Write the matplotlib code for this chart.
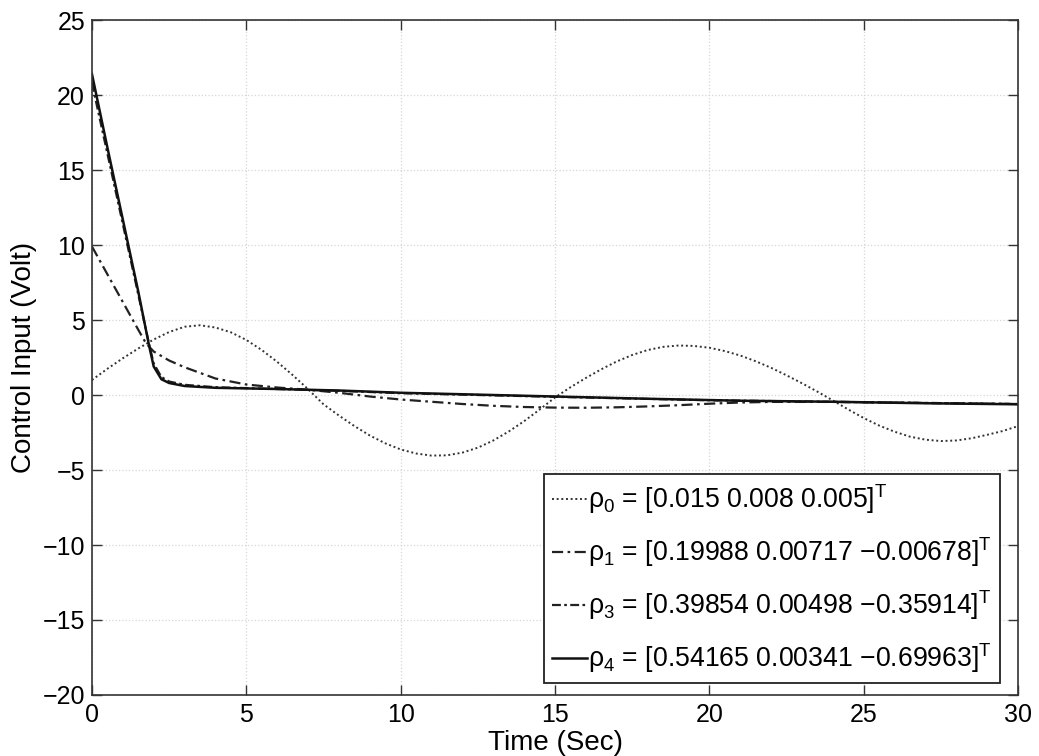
import matplotlib
matplotlib.use("Agg")
import matplotlib.pyplot as plt

plt.rcParams['font.family'] = ['Liberation Sans', 'DejaVu Sans']
plt.rcParams['mathtext.fontset'] = 'custom'
plt.rcParams['mathtext.rm'] = 'Liberation Sans'
plt.rcParams['mathtext.it'] = 'Liberation Sans:italic'
plt.rcParams['mathtext.bf'] = 'Liberation Sans:bold'

# ---- data ----
t_rho0 = [0.0, 0.5, 1.0, 1.5, 2.0, 2.5, 3.0, 3.5, 4.0, 4.5, 5.0, 5.5, 6.0, 6.5,
          7.0, 7.5, 8.0, 8.5, 9.0, 9.5, 10.0, 10.5, 11.0, 11.5, 12.0, 12.5,
          13.0, 13.5, 14.0, 14.5, 15.0, 15.5, 16.0, 16.5, 17.0, 17.5, 18.0,
          18.5, 19.0, 19.5, 20.0, 20.5, 21.0, 21.5, 22.0, 22.5, 23.0, 23.5,
          24.0, 24.5, 25.0, 25.5, 26.0, 26.5, 27.0, 27.5, 28.0, 28.5, 29.0,
          29.5, 30.0]
u_rho0 = [1.0, 1.75, 2.45, 3.1, 3.7, 4.2, 4.55, 4.65, 4.5, 4.18, 3.67, 3.0,
          2.21, 1.33, 0.39, -0.62, -1.37, -2.07, -2.7, -3.22, -3.63, -3.9,
          -4.04, -4.02, -3.84, -3.51, -3.03, -2.43, -1.74, -0.97, -0.16, 0.52,
          1.14, 1.72, 2.24, 2.67, 3.0, 3.21, 3.3, 3.27, 3.15, 2.93, 2.63, 2.25,
          1.81, 1.31, 0.78, 0.22, -0.37, -0.97, -1.54, -2.04, -2.45, -2.78,
          -2.98, -3.07, -3.03, -2.88, -2.65, -2.4, -2.07]

t_rho1 = [0.0, 0.5, 1.0, 1.5, 1.75, 2.0, 2.5, 3.0, 4.0, 5.0, 6.0, 7.0, 8.0,
          9.0, 10.0, 11.0, 12.0, 13.0, 14.0, 15.0, 16.0, 17.0, 18.0, 19.0,
          20.0, 21.0, 22.0, 24.0, 27.0, 30.0]
u_rho1 = [9.9, 8.05, 6.2, 4.35, 3.45, 2.9, 2.3, 1.85, 1.1, 0.7, 0.5, 0.35,
          0.15, -0.1, -0.3, -0.45, -0.6, -0.72, -0.8, -0.84, -0.85, -0.82,
          -0.76, -0.68, -0.58, -0.5, -0.46, -0.46, -0.53, -0.6]

t_rho3 = [0.0, 0.5, 1.0, 1.5, 1.85, 2.0, 2.25, 2.5, 3.0, 4.0, 6.0, 8.0, 10.0,
          15.0, 20.0, 25.0, 30.0]
u_rho3 = [20.8, 16.1, 11.4, 6.7, 3.4, 2.1, 1.2, 0.9, 0.68, 0.52, 0.4, 0.28,
          0.12, -0.12, -0.35, -0.48, -0.6]

t_rho4 = [0.0, 0.5, 1.0, 1.5, 1.85, 2.0, 2.25, 2.5, 3.0, 4.0, 6.0, 8.0, 10.0,
          12.0, 15.0, 18.0, 21.0, 24.0, 27.0, 30.0]
u_rho4 = [21.4, 16.5, 11.7, 6.9, 3.3, 1.9, 1.05, 0.8, 0.6, 0.48, 0.4, 0.3,
          0.15, 0.05, -0.1, -0.25, -0.38, -0.45, -0.55, -0.62]

labels = [r'ρ$_\mathregular{0}$ = [0.015 0.008 0.005]$^\mathregular{T}$',
          r'ρ$_\mathregular{1}$ = [0.19988 0.00717 −0.00678]$^\mathregular{T}$',
          r'ρ$_\mathregular{3}$ = [0.39854 0.00498 −0.35914]$^\mathregular{T}$',
          r'ρ$_\mathregular{4}$ = [0.54165 0.00341 −0.69963]$^\mathregular{T}$']

x_ticks = [0, 5, 10, 15, 20, 25, 30]
y_ticks = [-20, -15, -10, -5, 0, 5, 10, 15, 20, 25]

fig = plt.figure(figsize=(10.39, 7.56), dpi=100)
ax = fig.add_axes([0.0885, 0.0807, 0.8915, 0.8928])

ax.plot(t_rho0, u_rho0, color='#333333', lw=1.4, linestyle=(0, (1, 1.4)), label=labels[0])
ax.plot(t_rho1, u_rho1, color='#222222', lw=1.6, linestyle=(0, (5, 2, 1.2, 2)), label=labels[1])
ax.plot(t_rho3, u_rho3, color='#222222', lw=1.6, linestyle=(0, (4, 1.5, 1.2, 1.5)), label=labels[2])
ax.plot(t_rho4, u_rho4, color='#111111', lw=1.8, linestyle='-', label=labels[3])

ax.set_xlim(0, 30)
ax.set_ylim(-20, 25)
ax.set_xticks(x_ticks)
ax.set_yticks(y_ticks)
ax.set_xticklabels([str(v) for v in x_ticks])
ax.set_yticklabels([str(v).replace('-', '−') for v in y_ticks])
ax.tick_params(direction='in', length=7, width=1.0, top=True, right=True,
               labelsize=18, color='#333333')
ax.tick_params(axis='x', pad=6)
ax.tick_params(axis='y', pad=5)
for s in ax.spines.values():
    s.set_linewidth(1.2)
    s.set_color('#333333')

ax.grid(True, color='#d6d6d6', linestyle=':', linewidth=0.9)

ax.set_xlabel('Time (Sec)', fontsize=20, labelpad=2)
ax.set_ylabel('Control Input (Volt)', fontsize=20, labelpad=4)

leg = ax.legend(loc='lower right', bbox_to_anchor=(0.9806, 0.0178),
                fontsize=19.2, frameon=True, fancybox=False, framealpha=1,
                handlelength=1.3, handletextpad=0.05, labelspacing=0.72,
                borderpad=0.3, borderaxespad=0.0)
leg.get_frame().set_edgecolor('#222222')
leg.get_frame().set_linewidth(1.3)

fig.savefig('out.png', dpi=100)
